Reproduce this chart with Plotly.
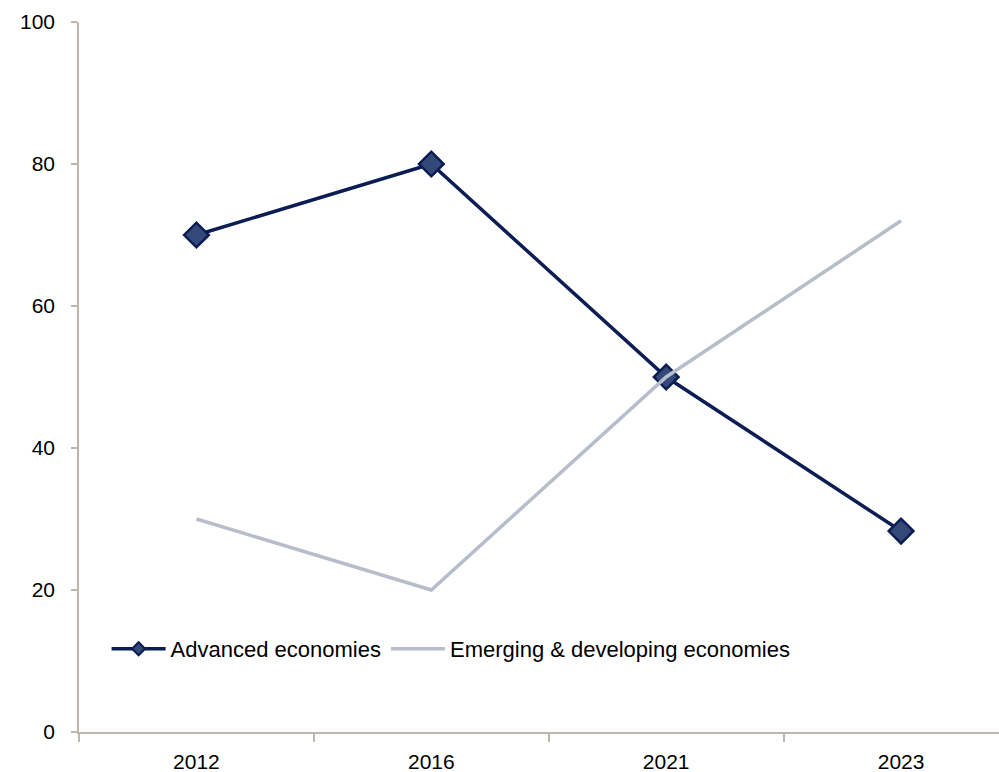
import plotly.graph_objects as go

years = ["2012", "2016", "2021", "2023"]
advanced = [70, 80, 50, 28.3]
emerging = [30, 20, 50, 72]
y_ticks = [0, 20, 40, 60, 80, 100]

NAVY = "#0b1d52"
NAVY_FILL = "#34497a"
GREY = "#b6bdcb"
AXIS = "#bdb6aa"
FONT = "Liberation Sans"

fig = go.Figure()

# Data traces (legend entries are drawn by the lightweight traces below)
fig.add_trace(go.Scatter(
    x=years, y=advanced, mode="lines+markers", showlegend=False,
    line=dict(color=NAVY, width=3.5),
    marker=dict(symbol="diamond", size=19, color=NAVY_FILL,
                line=dict(color=NAVY, width=2.5)),
))
fig.add_trace(go.Scatter(
    x=years, y=emerging, mode="lines", showlegend=False,
    line=dict(color=GREY, width=3.5),
))

# Legend entries with a smaller marker
fig.add_trace(go.Scatter(
    x=[None], y=[None], mode="lines+markers", name="Advanced economies",
    line=dict(color=NAVY, width=3.5),
    marker=dict(symbol="diamond", size=10, color=NAVY_FILL,
                line=dict(color=NAVY, width=2)),
))
fig.add_trace(go.Scatter(
    x=[None], y=[None], mode="lines", name="Emerging & developing economies",
    line=dict(color=GREY, width=3.5),
))

fig.update_layout(
    width=999, height=772,
    margin=dict(l=79, r=0, t=22, b=40),
    paper_bgcolor="white", plot_bgcolor="white",
    font=dict(family=FONT, size=21, color="black"),
    legend=dict(
        orientation="h", x=0.03, y=0.117, xanchor="left", yanchor="middle",
        bgcolor="rgba(0,0,0,0)", itemwidth=54, font=dict(size=22),
        tracegroupgap=0, itemclick=False,
    ),
    xaxis=dict(
        type="category", categoryorder="array", categoryarray=years,
        range=[-0.5, 3.417], showgrid=False, zeroline=False,
        showline=True, linecolor=AXIS, linewidth=1.5,
        ticks="outside", tickson="boundaries", ticklen=8, tickcolor=AXIS,
        tickwidth=1.5, ticklabelstandoff=10,
    ),
    yaxis=dict(
        range=[0, 100], tickvals=y_ticks, showgrid=False, zeroline=False,
        showline=True, linecolor=AXIS, linewidth=1.5,
        ticks="outside", ticklen=6, tickcolor=AXIS, tickwidth=1.5,
        ticklabelstandoff=12,
    ),
)

fig.write_html("out.html")
